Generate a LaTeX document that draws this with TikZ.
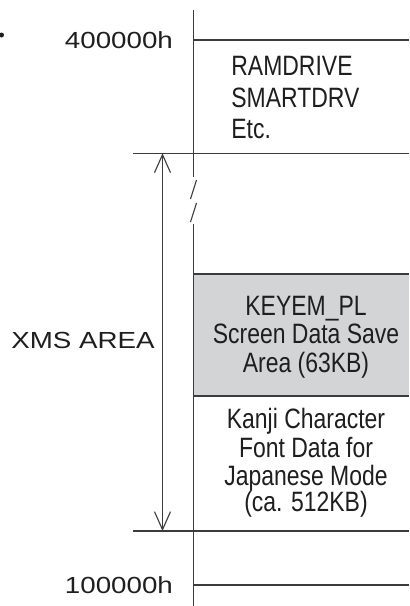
\documentclass[tikz,border=0pt]{standalone}
\usepackage{fontspec}
\setmainfont{Liberation Sans}
\newfontfamily\lfont[FakeStretch=1.19]{Liberation Sans}
\newfontfamily\rfont[FakeStretch=0.82]{Liberation Sans}
\usetikzlibrary{arrows.meta}
\definecolor{boxgray}{RGB}{211,212,214}
\definecolor{lncol}{RGB}{60,60,60}
\definecolor{txtcol}{RGB}{30,30,30}
\begin{document}
\begin{tikzpicture}[x=0.5pt,y=-0.5pt,
  ln/.style={draw=lncol, line width=0.55pt},
  ltxt/.style={font=\lfont\fontsize{11.65pt}{14pt}\selectfont, text=txtcol, inner sep=0pt, anchor=base east},
  rtxt/.style={font=\rfont\fontsize{14pt}{16pt}\selectfont, text=txtcol, inner sep=0pt, anchor=base},
  rtxtl/.style={rtxt, anchor=base west},
  barb/.style={ln, {Straight Barb[length=9pt,width=8pt]}-{Straight Barb[length=9pt,width=8pt]}}]
\useasboundingbox (0,0) rectangle (409,606);
% shaded region
\fill[boxgray] (193.5,274) rectangle (409,396);
% axis with break
\draw[ln] (193.5,10) -- (193.5,177);
\draw[ln] (193.5,224) -- (193.5,606);
\draw[ln] (196.5,180) -- (190.5,199);
\draw[ln] (196.5,203) -- (190.5,222);
% horizontal lines
\draw[ln] (193.5,40) -- (409,40);
\draw[ln] (133,153.3) -- (409,153.3);
\draw[ln] (193.5,274) -- (409,274);
\draw[ln] (193.5,396) -- (409,396);
\draw[ln] (133,531) -- (409,531);
\draw[ln] (193.5,585) -- (409,585);
% dimension arrow
\coordinate (atop) at (162.5,153.3);
\coordinate (abot) at (162.5,531);
\draw[barb] (atop) -- (abot);
% bullet at left edge
\fill[txtcol] (1.5,35) circle (2.5);
% left labels
\node[ltxt] (t400) at (173.3,48) {400000h};
\node[ltxt] (xms) at (155,348) {XMS AREA};
\node[ltxt] (t100) at (173.3,593) {100000h};
% right labels
\node[rtxtl] (r1) at (231,75) {RAMDRIVE};
\node[rtxtl] (r2) at (231,107) {SMARTDRV};
\node[rtxtl] (r3) at (231,138) {Etc.};
\node[rtxt] (k1) at (306,315) {KEYEM\_PL};
\node[rtxt] (k2) at (306,343) {Screen Data Save};
\node[rtxt] (k3) at (306,372) {Area (63KB)};
\node[rtxt] (f1) at (306,428) {Kanji Character};
\node[rtxt] (f2) at (306,457) {Font Data for};
\node[rtxt] (f3) at (306,485) {Japanese Mode};
\node[rtxt] (f4) at (306,511) {(ca. 512KB)};
\end{tikzpicture}
\end{document}
